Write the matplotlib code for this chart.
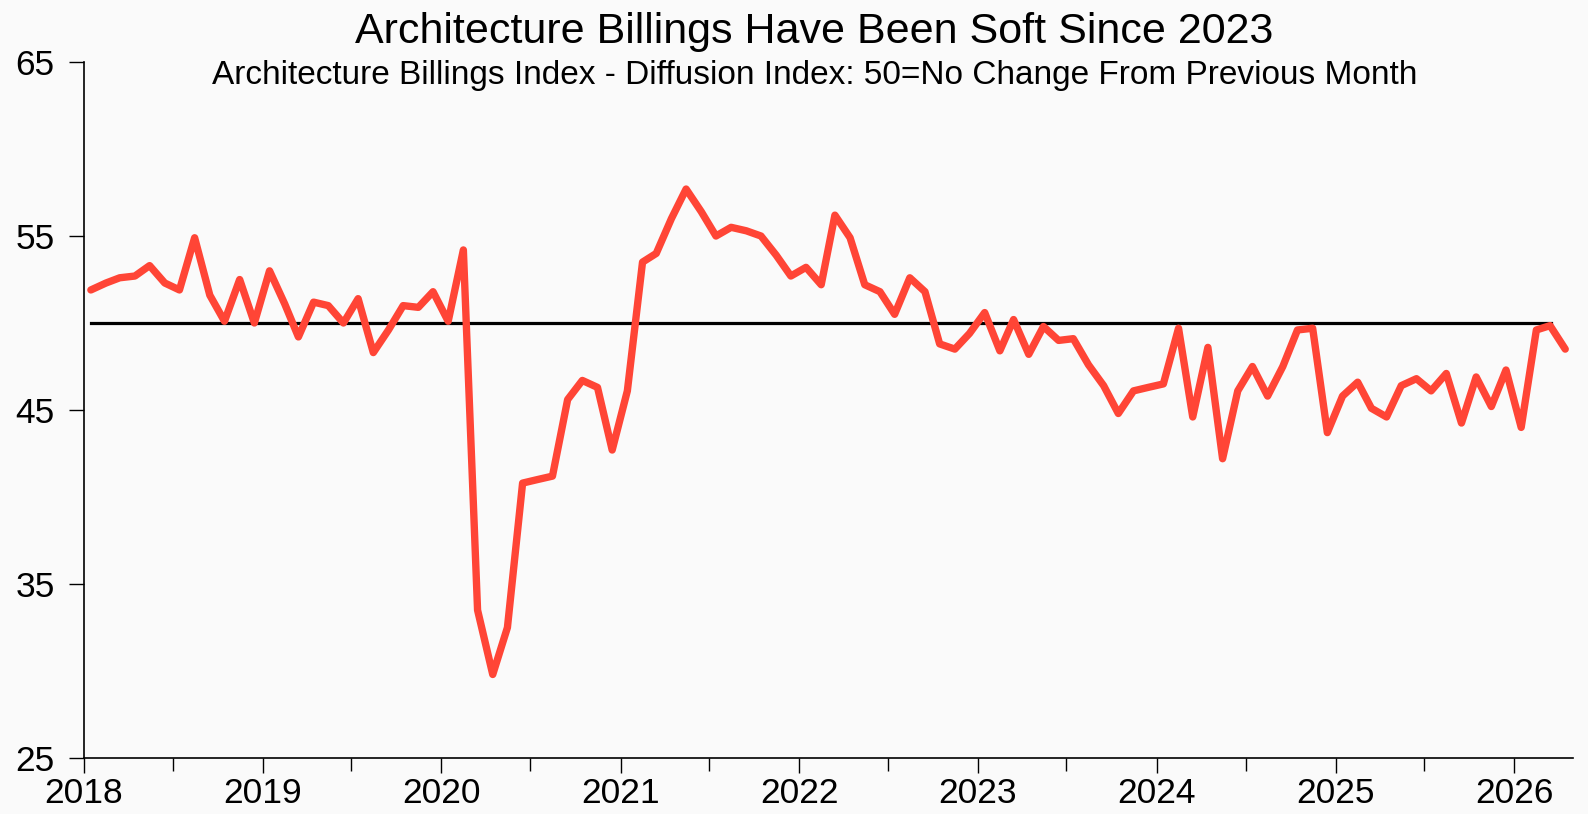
import pandas as pd
import matplotlib.pyplot as plt
import matplotlib.dates as mdates

plt.rcParams['font.family'] = ['Liberation Sans', 'DejaVu Sans']

# Architecture Billings Index, monthly, Jan 2018 - Apr 2026
abi_2018 = [51.9, 52.3, 52.6, 52.7, 53.3, 52.3, 51.9, 54.9, 51.6, 50.1, 52.5, 50.0]
abi_2019 = [53.0, 51.1, 49.2, 51.2, 51.0, 50.0, 51.4, 48.3, 49.6, 51.0, 50.9, 51.8]
abi_2020 = [50.1, 54.2, 33.5, 29.8, 32.5, 40.8, 41.0, 41.2, 45.6, 46.7, 46.3, 42.7]
abi_2021 = [46.1, 53.5, 54.0, 56.0, 57.7, 56.4, 55.0, 55.5, 55.3, 55.0, 53.9, 52.7]
abi_2022 = [53.2, 52.2, 56.2, 54.9, 52.2, 51.8, 50.5, 52.6, 51.8, 48.8, 48.5, 49.4]
abi_2023 = [50.6, 48.4, 50.2, 48.2, 49.8, 49.0, 49.1, 47.6, 46.4, 44.8, 46.1, 46.3]
abi_2024 = [46.5, 49.7, 44.6, 48.6, 42.2, 46.1, 47.5, 45.8, 47.5, 49.6, 49.7, 43.7]
abi_2025 = [45.8, 46.6, 45.1, 44.6, 46.4, 46.8, 46.1, 47.1, 44.25, 46.9, 45.2, 47.3]
abi_2026 = [44.0, 49.6, 49.85, 48.5]

abi = (abi_2018 + abi_2019 + abi_2020 + abi_2021 + abi_2022
       + abi_2023 + abi_2024 + abi_2025 + abi_2026)
no_change = 50
y_ticks = [25, 35, 45, 55, 65]

# puntos mensuales a mitad de mes
fechas = pd.date_range('2018-01-01', periods=len(abi), freq='MS') + pd.Timedelta(days=14)

bg = '#fafafa'
fig = plt.figure(figsize=(15.88, 8.14), dpi=100, facecolor=bg)
ax = fig.add_axes([0.0529, 0.0688, 0.9377, 0.855], facecolor=bg)

ax.plot(fechas, abi, color='#ff4536', linewidth=5.3, solid_joinstyle='round',
        solid_capstyle='round', zorder=3)
ax.axhline(no_change, color='black', linewidth=2.3, zorder=2,
           xmin=0.005, xmax=0.985)

ax.set_ylim(25, 65)
ax.set_yticks(y_ticks)
ax.set_xlim(pd.Timestamp('2018-01-01'), pd.Timestamp('2026-05-01'))
ax.xaxis.set_major_locator(mdates.YearLocator())
ax.xaxis.set_major_formatter(mdates.DateFormatter('%Y'))
ax.xaxis.set_minor_locator(mdates.MonthLocator(bymonth=7))

for lado in ['top', 'right']:
    ax.spines[lado].set_visible(False)
for lado in ['left', 'bottom']:
    ax.spines[lado].set_linewidth(1.2)
    ax.spines[lado].set_color('black')

ax.tick_params(axis='y', which='major', length=11, width=1, labelsize=25.5, pad=10)
ax.tick_params(axis='x', which='major', length=11, width=1, labelsize=25.5, pad=3)
ax.tick_params(axis='x', which='minor', length=9, width=1)

fig.text(0.513, 0.961, 'Architecture Billings Have Been Soft Since 2023',
         ha='center', va='center', fontsize=31)
fig.text(0.513, 0.907, 'Architecture Billings Index - Diffusion Index: 50=No Change From Previous Month',
         ha='center', va='center', fontsize=24)

fig.savefig('out.png', dpi=100, facecolor=bg)
